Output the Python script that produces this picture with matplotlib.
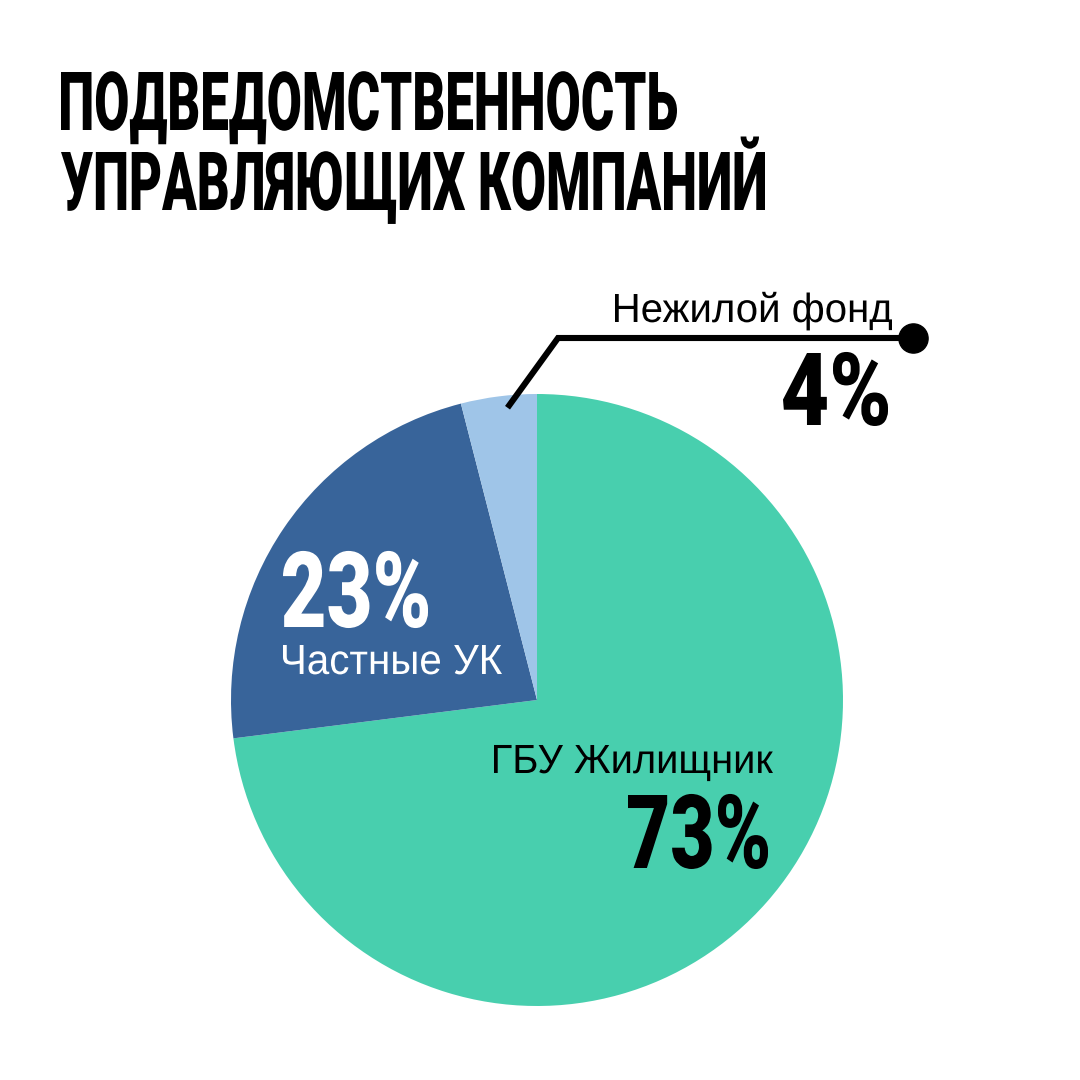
import matplotlib
matplotlib.use("Agg")
import matplotlib.pyplot as plt
import numpy as np
from matplotlib.patheffects import AbstractPathEffect
from matplotlib.transforms import Affine2D
from matplotlib.textpath import TextPath
from matplotlib.font_manager import FontProperties

# ---------------- data ----------------
categories = ["ГБУ Жилищник", "Частные УК", "Нежилой фонд"]
shares = [73, 23, 4]
pct_labels = ["73%", "23%", "4%"]
colors = ["#48CFAE", "#38649A", "#9FC5E8"]
title_lines = ["ПОДВЕДОМСТВЕННОСТЬ", "УПРАВЛЯЮЩИХ КОМПАНИЙ"]

W = H = 1080
DPI = 100

COND = ["Roboto", "DejaVu Sans"]
REG = ["Liberation Sans", "DejaVu Sans"]


class VStretch(AbstractPathEffect):
    """Stretch glyphs vertically around the text baseline."""
    def __init__(self, sy):
        super().__init__()
        self.sy = sy

    def draw_path(self, renderer, gc, tpath, affine, rgbFace=None):
        m = affine.get_matrix().copy()
        m[1, 0] *= self.sy
        m[1, 1] *= self.sy
        renderer.draw_path(gc, tpath, Affine2D(m), rgbFace)


fig = plt.figure(figsize=(W / DPI, H / DPI), dpi=DPI)
ax = fig.add_axes([0, 0, 1, 1])


def fitted_text(s, left, right, top, base, color, family, weight):
    """Size the text to the given ink width, then stretch to the cap height."""
    fp = FontProperties(family=family, weight=weight)
    cap = TextPath((0, 0), "Н", size=100, prop=fp).get_extents().height / 100
    ext = TextPath((0, 0), s, size=100, prop=fp).get_extents()
    size_px = 100 * (right - left) / ext.width
    sy = (base - top) / (cap * size_px)
    x0 = left - ext.x0 * size_px / 100
    ax.text(x0, H - base, s, fontproperties=fp, fontsize=size_px * 72 / DPI,
            color=color, ha="left", va="baseline",
            path_effects=[VStretch(sy)])


# ---------------- pie ----------------
cx, cy, R = 537, H - 700, 306
wedges, _ = ax.pie(shares, colors=colors, startangle=90, counterclock=False,
                   center=(cx, cy), radius=R,
                   wedgeprops=dict(linewidth=0, edgecolor="none"))
ax.set_xlim(0, W)
ax.set_ylim(0, H)
ax.set_aspect("equal")
ax.axis("off")

# ---------------- title ----------------
fitted_text(title_lines[0], 61, 677, 72, 130, "black", COND, 900)
fitted_text(title_lines[1], 61, 765, 152, 210, "black", COND, 900)

# ---------------- labels ----------------
# Нежилой фонд
fitted_text(categories[2], 615, 892, 294, 322, "black", REG, "normal")
fitted_text(pct_labels[2], 783, 888, 353, 425, "black", COND, 900)
# leader line from the small wedge
w = wedges[2]
ang = np.deg2rad(w.theta1 + 0.4 * (w.theta2 - w.theta1))
sx_, sy_ = cx + 0.96 * R * np.cos(ang), cy + 0.96 * R * np.sin(ang)
ax.plot([sx_, 558, 913], [sy_, H - 338, H - 338], color="black", lw=4.4,
        solid_joinstyle="miter", solid_capstyle="butt", zorder=5)
ax.plot([913], [H - 338], "o", color="black", markersize=21, zorder=6)

# Частные УК
fitted_text(pct_labels[1], 283, 428, 552, 627, "white", COND, 900)
fitted_text(categories[1], 283, 502, 645, 674, "white", REG, "normal")

# ГБУ Жилищник
fitted_text(categories[0], 494, 773, 745, 773, "black", REG, "normal")
fitted_text(pct_labels[0], 628, 768, 795, 868, "black", COND, 900)

fig.savefig("out.png", dpi=DPI, facecolor="white")
